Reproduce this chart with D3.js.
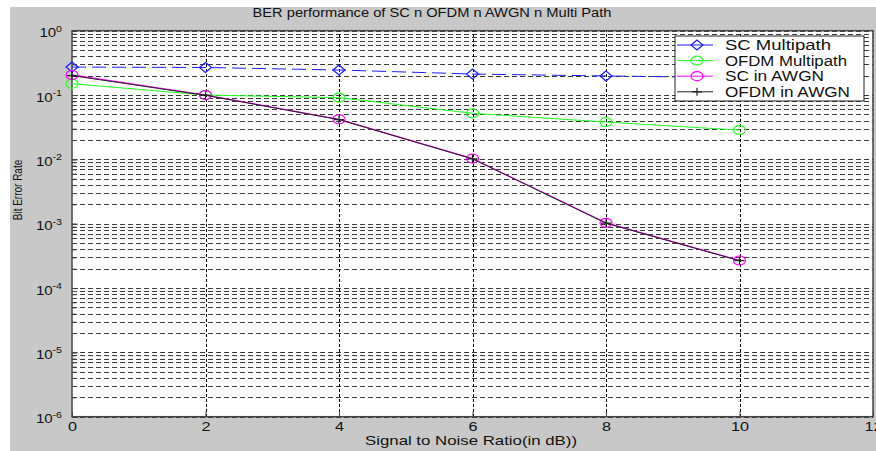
<!DOCTYPE html>
<html>
<head>
<meta charset="utf-8">
<script src="https://cdn.jsdelivr.net/npm/d3@7/dist/d3.min.js"></script>
<style>
  body { margin: 0; background: #fff; }
  svg text { font-family: "Liberation Sans", Arial, sans-serif; }
</style>
</head>
<body>
<svg id="chart" width="876" height="451"></svg>
<script>
/* BER vs SNR chart */

const snr = [0, 2, 4, 6, 8, 10];
const scMultipath = [0.272, 0.268, 0.245, 0.212, 0.198, 0.186];
const ofdmMultipath = [0.150, 0.100, 0.091, 0.052, 0.038, 0.0285];
const scAwgn = [0.205, 0.100, 0.042, 0.0103, 0.00103, 0.000268];
const ofdmAwgn = [0.200, 0.099, 0.0415, 0.0102, 0.00102, 0.000266];
const xTicks = [0, 2, 4, 6, 8, 10, 12];
const yDecades = [-6, -5, -4, -3, -2, -1, 0];
const legendNames = ['SC Multipath', 'OFDM Multipath', 'SC in AWGN', 'OFDM in AWGN'];
const legendWidths = [106, 122, 99, 125];

const svg = d3.select('#chart');
const W = 876, H = 451;
const plotL = 72, plotR = 873, plotT = 30.7, plotB = 416.7;
const stretch = 1.25; // the original text looks wider than tall

// grey figure background
svg.append('rect').attr('x', 10).attr('y', 7).attr('width', W - 10).attr('height', H - 7)
  .attr('fill', '#c8c8c8');
svg.append('rect').attr('x', plotL).attr('y', plotT).attr('width', plotR - plotL).attr('height', plotB - plotT)
  .attr('fill', '#fff');

const x = d3.scaleLinear().domain([0, 12]).range([plotL, plotR]);
const y = d3.scaleLog().domain([1e-6, 1]).range([plotB, plotT]);

// minor log values
const minorVals = [];
for (let e = -6; e < 0; e++) {
  for (let k = 1; k <= 9; k++) minorVals.push(k * Math.pow(10, e));
}

// horizontal grid
svg.append('g').attr('transform', `translate(${plotL},0)`)
  .call(d3.axisLeft(y).tickValues(minorVals.concat([1])).tickSize(-(plotR - plotL)).tickFormat(''))
  .call(g => g.select('.domain').remove())
  .call(g => g.selectAll('line').attr('stroke', '#3a3a3a').attr('stroke-width', 1)
    .attr('stroke-dasharray', '5,3').attr('shape-rendering', 'crispEdges'));

// vertical grid
svg.append('g').attr('transform', `translate(0,${plotB})`)
  .call(d3.axisBottom(x).tickValues([2, 4, 6, 8, 10]).tickSize(-(plotB - plotT)).tickFormat(''))
  .call(g => g.select('.domain').remove())
  .call(g => g.selectAll('line').attr('stroke', '#000').attr('stroke-width', 1)
    .attr('stroke-dasharray', '3,2').attr('shape-rendering', 'crispEdges'));

// box
svg.append('rect').attr('x', plotL).attr('y', plotT).attr('width', plotR - plotL).attr('height', plotB - plotT)
  .attr('fill', 'none').attr('stroke', '#444').attr('stroke-width', 1.5);

// axes with inward ticks
const xAxis = svg.append('g').attr('transform', `translate(0,${plotB})`)
  .call(d3.axisBottom(x).tickValues(xTicks).tickSize(-5).tickPadding(5).tickFormat(d3.format('d')));
xAxis.select('.domain').remove();
xAxis.selectAll('line').attr('stroke', '#444');
xAxis.selectAll('text').attr('font-size', 13).attr('fill', '#111')
  .attr('transform', `scale(${stretch},1)`);

const yAxis = svg.append('g').attr('transform', `translate(${plotL},0)`)
  .call(d3.axisLeft(y).tickValues(minorVals).tickSize(-4).tickFormat(''));
yAxis.select('.domain').remove();
yAxis.selectAll('line').attr('stroke', '#444');

const yMajor = svg.append('g').attr('transform', `translate(${plotL},0)`)
  .call(d3.axisLeft(y).tickValues(yDecades.map(e => Math.pow(10, e))).tickSize(-6).tickPadding(8).tickFormat(''));
yMajor.select('.domain').remove();
yMajor.selectAll('line').attr('stroke', '#444');
yMajor.selectAll('.tick text').each(function (d) {
  const t = d3.select(this).attr('font-size', 12).attr('fill', '#111').attr('dy', '0.5em')
    .attr('transform', `scale(${stretch},1)`);
  t.append('tspan').text('10');
  t.append('tspan').attr('dy', '-0.65em').attr('font-size', 8.5).text(String(Math.round(Math.log10(d))));
});

// titles
svg.append('text').attr('x', 432).attr('y', 17).attr('text-anchor', 'middle')
  .attr('font-size', 12.5).attr('fill', '#111')
  .attr('textLength', 359).attr('lengthAdjust', 'spacingAndGlyphs')
  .text('BER performance of SC n OFDM n AWGN n Multi Path');
svg.append('text').attr('x', 471).attr('y', 445).attr('text-anchor', 'middle')
  .attr('font-size', 13).attr('fill', '#111')
  .attr('textLength', 212).attr('lengthAdjust', 'spacingAndGlyphs')
  .text('Signal to Noise Ratio(in dB))');
svg.append('text').attr('transform', `translate(22,190) scale(${stretch},1) rotate(-90)`)
  .attr('text-anchor', 'middle').attr('font-size', 10).attr('fill', '#111')
  .text('Bit Error Rate');

// series
const series = [
  { name: legendNames[0], data: scMultipath, color: '#1a1aff', dash: '14,6', marker: 'diamond', width: 1 },
  { name: legendNames[1], data: ofdmMultipath, color: '#20ff20', dash: null, marker: 'circle', width: 1 },
  { name: legendNames[2], data: scAwgn, color: '#ff00ff', dash: null, marker: 'circle', width: 1.3 },
  { name: legendNames[3], data: ofdmAwgn, color: '#222', dash: null, marker: 'plus', width: 1 }
];

const line = d3.line().x(d => x(d[0])).y(d => y(d[1]));

function drawMarker(g, type, color) {
  if (type === 'diamond') {
    g.append('path').attr('d', 'M-6,0L0,-5L6,0L0,5Z').attr('fill', 'none').attr('stroke', color).attr('stroke-width', 1.2);
  } else if (type === 'circle') {
    g.append('ellipse').attr('rx', 6).attr('ry', 4.5).attr('fill', 'none').attr('stroke', color).attr('stroke-width', 1.2);
  } else {
    g.append('path').attr('d', 'M-5,0H5M0,-4V4').attr('stroke', color).attr('stroke-width', 1.2);
  }
}

series.forEach(s => {
  const pts = snr.map((v, i) => [v, s.data[i]]);
  svg.append('path').datum(pts).attr('d', line)
    .attr('fill', 'none').attr('stroke', s.color).attr('stroke-width', s.width)
    .attr('stroke-dasharray', s.dash);
  pts.forEach(p => {
    const g = svg.append('g').attr('transform', `translate(${x(p[0])},${y(p[1])})`);
    drawMarker(g, s.marker, s.color);
  });
});

// legend
const lg = svg.append('g');
lg.append('rect').attr('x', 675).attr('y', 36).attr('width', 189).attr('height', 65)
  .attr('fill', '#fff').attr('stroke', '#222').attr('stroke-width', 1);
series.forEach((s, i) => {
  const cy = 45 + i * 15.6;
  lg.append('line').attr('x1', 677).attr('x2', 713).attr('y1', cy).attr('y2', cy)
    .attr('stroke', s.color).attr('stroke-width', 1);
  drawMarker(lg.append('g').attr('transform', `translate(697,${cy})`), s.marker, s.color);
  lg.append('text').attr('x', 725).attr('y', cy + 5).attr('font-size', 14).attr('fill', '#111')
    .attr('textLength', legendWidths[i]).attr('lengthAdjust', 'spacingAndGlyphs')
    .text(s.name);
});
</script>
</body>
</html>
